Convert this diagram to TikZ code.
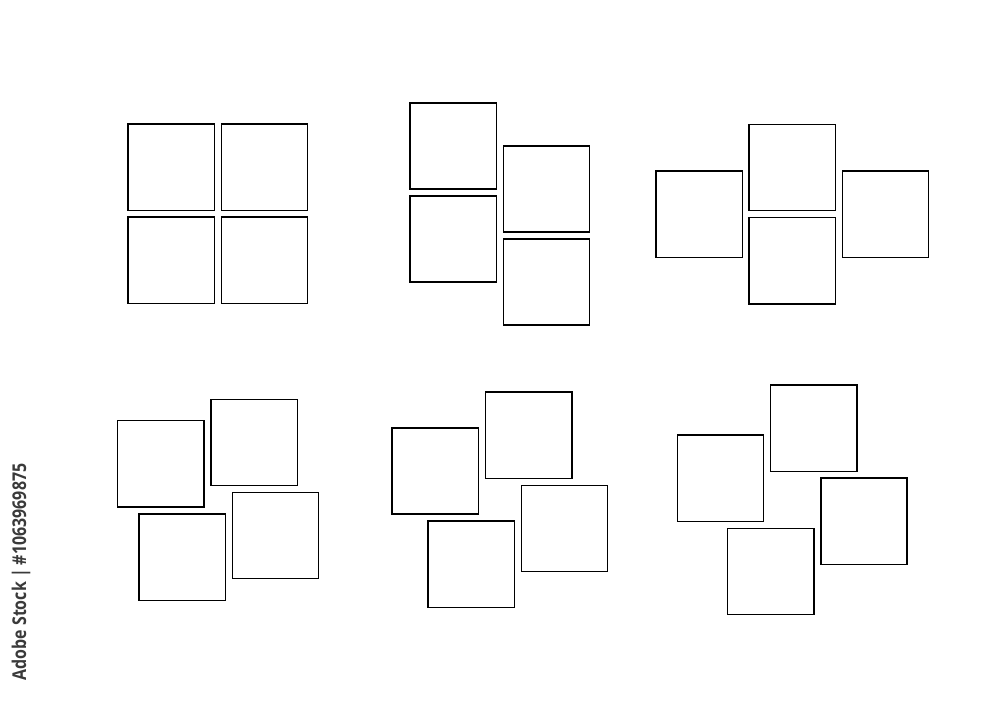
\documentclass[tikz,border=0pt]{standalone}
\usepackage{fontspec}
\newfontfamily\wmfont{Open Sans}
\definecolor{wmgrey}{HTML}{3A3A3A}
\begin{document}
\begin{tikzpicture}[x=0.01cm,y=-0.01cm,
  tile/.style={draw=black,line width=0.45pt,fill=white,rectangle,inner sep=0pt,minimum size=0.863cm},
  wmark/.style={rotate=90,text=wmgrey,inner sep=0pt,font=\wmfont\bfseries\fontsize{5.4}{6}\selectfont}]
\useasboundingbox[fill=white] (0,0) rectangle (1000,714);
% group 1: 2x2 grid
\node[tile] (g1a) at (171.3,167.2) {};
\node[tile] (g1b) at (264.5,167.2) {};
\node[tile] (g1c) at (171.3,260.3) {};
\node[tile] (g1d) at (264.5,260.3) {};
% group 2: staggered columns
\node[tile] (g2a) at (453.3,146) {};
\node[tile] (g2b) at (546.5,189) {};
\node[tile] (g2c) at (453.3,239) {};
\node[tile] (g2d) at (546.5,282) {};
% group 3: cross
\node[tile] (g3l) at (699.2,214.2) {};
\node[tile] (g3t) at (792.3,167.5) {};
\node[tile] (g3b) at (792.3,260.7) {};
\node[tile] (g3r) at (885.5,214.2) {};
% group 4
\node[tile] (g4a) at (160.8,463.8) {};
\node[tile] (g4b) at (254.2,442.5) {};
\node[tile] (g4c) at (182.2,557.2) {};
\node[tile] (g4d) at (275.5,535.5) {};
% group 5
\node[tile] (g5a) at (435.3,471) {};
\node[tile] (g5b) at (528.7,435.3) {};
\node[tile] (g5c) at (471.2,564.2) {};
\node[tile] (g5d) at (564.5,528.5) {};
% group 6
\node[tile] (g6a) at (720.5,478.2) {};
\node[tile] (g6b) at (813.8,428.2) {};
\node[tile] (g6c) at (770.7,571.5) {};
\node[tile] (g6d) at (864,521.3) {};
% vertical caption
\node[wmark] (wm) at (21,572) {\scalebox{0.84}[1]{Adobe Stock | \#1063969875}};
\end{tikzpicture}
\end{document}
